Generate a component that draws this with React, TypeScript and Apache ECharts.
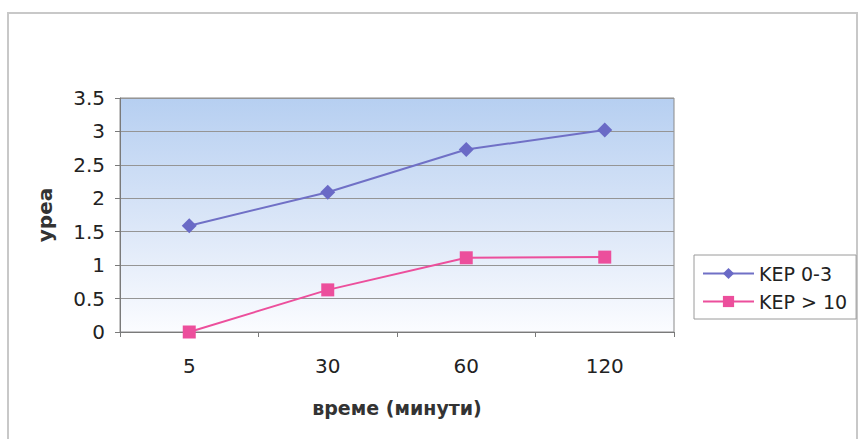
import React, { useEffect, useRef } from "react";
import * as echarts from "echarts";

const categories = ["5", "30", "60", "120"];
const seriesNames = ["KEP 0-3", "KEP > 10"];
const kep03 = [1.59, 2.09, 2.73, 3.02];
const kep10 = [0, 0.63, 1.11, 1.12];
const yTicks = { min: 0, max: 3.5, interval: 0.5 };

const FONT = "DejaVu Sans, Liberation Sans, Arial, sans-serif";

export default function App() {
  const ref = useRef<HTMLDivElement>(null);
  useEffect(() => {
    const chart = echarts.init(ref.current!, null, { renderer: "svg" });
    chart.setOption({
      animation: false,
      backgroundColor: "#ffffff",
      textStyle: { fontFamily: FONT },
      graphic: [
        {
          type: "rect",
          shape: { x: 8, y: 13, width: 849, height: 440 },
          style: { fill: "none", stroke: "#c8c8c8", lineWidth: 2 },
          silent: true,
        },
      ],
      grid: {
        left: 120,
        top: 98,
        width: 554,
        height: 234,
        show: true,
        borderColor: "#8a8a8a",
        borderWidth: 1,
        backgroundColor: new echarts.graphic.LinearGradient(0, 0, 0, 1, [
          { offset: 0, color: "#b6cff1" },
          { offset: 0.55, color: "#dce7f8" },
          { offset: 1, color: "#fbfcff" },
        ]),
      },
      legend: {
        orient: "vertical",
        left: 694,
        top: 255,
        padding: [9, 9, 8, 8],
        itemGap: 9,
        itemWidth: 51,
        itemHeight: 14,
        borderColor: "#9a9a9a",
        borderWidth: 1,
        backgroundColor: "#ffffff",
        textStyle: { fontSize: 19, color: "#222", fontFamily: FONT },
        data: seriesNames,
      },
      xAxis: {
        type: "category",
        data: categories,
        boundaryGap: true,
        name: "време (минути)",
        nameLocation: "middle",
        nameGap: 66,
        nameTextStyle: { fontSize: 19, fontWeight: "bold", color: "#333", fontFamily: FONT },
        axisLine: { lineStyle: { color: "#7a7a7a", width: 1 } },
        axisTick: { show: true, length: 5, lineStyle: { color: "#7a7a7a" } },
        axisLabel: { fontSize: 20, color: "#222", margin: 24, fontFamily: FONT },
      },
      yAxis: {
        type: "value",
        min: yTicks.min,
        max: yTicks.max,
        interval: yTicks.interval,
        name: "уреа",
        nameLocation: "middle",
        nameRotate: 90,
        nameGap: 65,
        nameTextStyle: { fontSize: 20, fontWeight: "bold", color: "#333", fontFamily: FONT },
        axisLine: { show: true, lineStyle: { color: "#7a7a7a", width: 1 } },
        axisTick: { show: true, length: 5, lineStyle: { color: "#7a7a7a" } },
        axisLabel: { fontSize: 20, color: "#222", margin: 15, fontFamily: FONT },
        splitLine: { show: true, lineStyle: { color: "#959595", width: 1 } },
      },
      series: [
        {
          name: seriesNames[0],
          type: "line",
          data: kep03,
          symbol: "diamond",
          symbolSize: 15,
          lineStyle: { color: "#7070c6", width: 2 },
          itemStyle: { color: "#6a6ac6" },
        },
        {
          name: seriesNames[1],
          type: "line",
          data: kep10,
          symbol: "rect",
          symbolSize: 13,
          lineStyle: { color: "#ec4f9c", width: 2 },
          itemStyle: { color: "#ec4f9c" },
        },
      ],
    });
    return () => chart.dispose();
  }, []);
  return (
    <div
      ref={ref}
      style={{ position: "fixed", left: 0, top: 0, width: 859, height: 439 }}
    />
  );
}
